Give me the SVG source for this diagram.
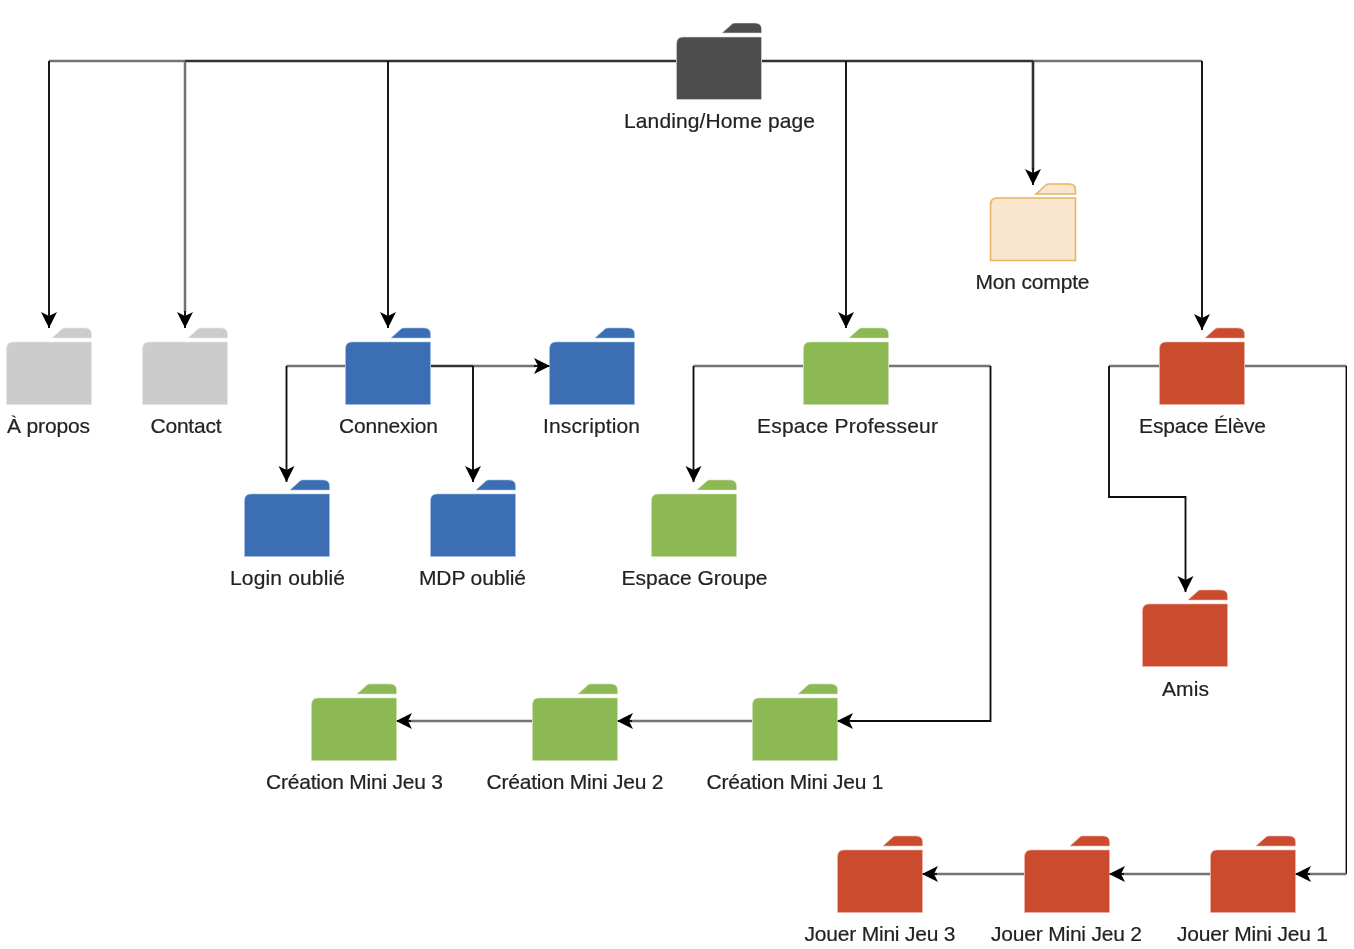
<svg xmlns="http://www.w3.org/2000/svg" width="1354" height="949" viewBox="0 0 1354 949">
<style>
text{font-family:"Liberation Sans",Arial,sans-serif;font-size:21px;fill:#222;text-anchor:middle;stroke:#222;stroke-width:.2}
.c,.g{fill:none}
.c{stroke:#111;stroke-width:1.9}
.g{stroke:#737373;stroke-width:2.5}
.m{stroke:#333;stroke-width:2.6;fill:none}
.dark{fill:#4d4d4d;stroke:#d8d8d8;stroke-width:.6}
.gray{fill:#cccccc;stroke:#e8e8e8;stroke-width:.6}
.blue{fill:#3a6eb3;stroke:#a5c0e2;stroke-width:.6}
.green{fill:#8cb952;stroke:#cde0b4;stroke-width:.6}
.red{fill:#cb4c2e;stroke:#ecb5a8;stroke-width:.6}
.tan{fill:#fae5ce;stroke:#e3b760;stroke-width:1.6}
</style>
<defs>
<filter id="b" x="0" y="0" width="100%" height="100%"><feGaussianBlur stdDeviation="0.35"/></filter>
<path id="f" d="M46 11L56 2Q57 1 59 1L79 1Q85.500 1 85.500 7L85.500 11ZM.5 22Q.5 15 7 15L85.500 15L85.500 77.500L.5 77.500Z"/>
<path id="h" d="M0 0L16 8L0 16L4 8Z" fill="#000"/>
<marker id="a" markerUnits="userSpaceOnUse" markerWidth="17" markerHeight="17" refX="16" refY="8" orient="auto"><use href="#h"/></marker>
</defs>
<g filter="url(#b)">
<g id="connectors">
<path class="g" d="M49 61H185"/>
<path class="m" d="M185 61H676"/>
<path class="m" d="M762 61H1033"/>
<path class="g" d="M1033 61H1202"/>
<path class="c" d="M49 61V328" marker-end="url(#a)"/>
<path class="g" d="M185 62V312"/>
<path d="M185 311V328" class="c" marker-end="url(#a)"/>
<path class="c" d="M388 61V328" marker-end="url(#a)"/>
<path class="c" d="M846 61V328" marker-end="url(#a)"/>
<path class="m" d="M1033 61V170"/>
<path class="c" d="M1033 168V185" marker-end="url(#a)"/>
<path class="c" d="M1202 61V330" marker-end="url(#a)"/>
<path class="m" d="M431 366H473"/>
<path class="g" d="M473 366H536"/>
<path class="c" d="M534 366H550" marker-end="url(#a)"/>
<path class="c" d="M473 366V482" marker-end="url(#a)"/>
<path class="g" d="M345 366H286.500"/>
<path class="c" d="M286.500 366V482" marker-end="url(#a)"/>
<path class="g" d="M803 366H693.500"/>
<path class="c" d="M693.500 366V482" marker-end="url(#a)"/>
<path class="g" d="M889 366H990.500"/>
<path class="c" d="M990.500 366V721H837" marker-end="url(#a)"/>
<path class="g" d="M752 721H630"/>
<path class="c" d="M632 721H617" marker-end="url(#a)"/>
<path class="g" d="M532 721H409"/>
<path class="c" d="M411 721H396" marker-end="url(#a)"/>
<path class="g" d="M1159 366H1109"/>
<path class="c" d="M1109 366V497H1185.500V592" marker-end="url(#a)"/>
<path class="g" d="M1245 366H1346.500"/>
<path class="c" d="M1346.500 366V874"/>
<path class="g" d="M1346.500 874H1308"/>
<path class="c" d="M1310 874H1295" marker-end="url(#a)"/>
<path class="g" d="M1210 874H1122"/>
<path class="c" d="M1124 874H1109" marker-end="url(#a)"/>
<path class="g" d="M1024 874H935"/>
<path class="c" d="M937 874H922" marker-end="url(#a)"/>
</g>
<g id="n-home"><use href="#f" x="676" y="22" class="dark"/><text x="719.500" y="128" textLength="191">Landing/Home page</text></g>
<g id="n-compte"><use href="#f" x="990" y="183" class="tan"/><text x="1032.500" y="289" textLength="114">Mon compte</text></g>
<g id="n-apropos"><use href="#f" x="6" y="327" class="gray"/><text x="48.500" y="433" textLength="83">À propos</text></g>
<g id="n-contact"><use href="#f" x="142" y="327" class="gray"/><text x="186" y="433" textLength="71">Contact</text></g>
<g id="n-connexion"><use href="#f" x="345" y="327" class="blue"/><text x="388.500" y="433" textLength="99">Connexion</text></g>
<g id="n-inscription"><use href="#f" x="549" y="327" class="blue"/><text x="591.500" y="433" textLength="97">Inscription</text></g>
<g id="n-prof"><use href="#f" x="803" y="327" class="green"/><text x="847.500" y="433" textLength="181">Espace Professeur</text></g>
<g id="n-eleve"><use href="#f" x="1159" y="327" class="red"/><text x="1202.500" y="433" textLength="127">Espace Élève</text></g>
<g id="n-login"><use href="#f" x="244" y="479" class="blue"/><text x="287.500" y="585" textLength="115">Login oublié</text></g>
<g id="n-mdp"><use href="#f" x="430" y="479" class="blue"/><text x="472.500" y="585" textLength="107">MDP oublié</text></g>
<g id="n-groupe"><use href="#f" x="651" y="479" class="green"/><text x="694.500" y="585" textLength="146">Espace Groupe</text></g>
<g id="n-amis"><use href="#f" x="1142" y="589" class="red"/><text x="1185.500" y="696" textLength="47">Amis</text></g>
<g id="n-cr1"><use href="#f" x="752" y="683" class="green"/><text x="795" y="789" textLength="177">Création Mini Jeu 1</text></g>
<g id="n-cr2"><use href="#f" x="532" y="683" class="green"/><text x="575" y="789" textLength="177">Création Mini Jeu 2</text></g>
<g id="n-cr3"><use href="#f" x="311" y="683" class="green"/><text x="354.500" y="789" textLength="177">Création Mini Jeu 3</text></g>
<g id="n-j1"><use href="#f" x="1210" y="835" class="red"/><text x="1252.500" y="941" textLength="151">Jouer Mini Jeu 1</text></g>
<g id="n-j2"><use href="#f" x="1024" y="835" class="red"/><text x="1066.500" y="941" textLength="151">Jouer Mini Jeu 2</text></g>
<g id="n-j3"><use href="#f" x="837" y="835" class="red"/><text x="880" y="941" textLength="151">Jouer Mini Jeu 3</text></g>
</g>
</svg>
